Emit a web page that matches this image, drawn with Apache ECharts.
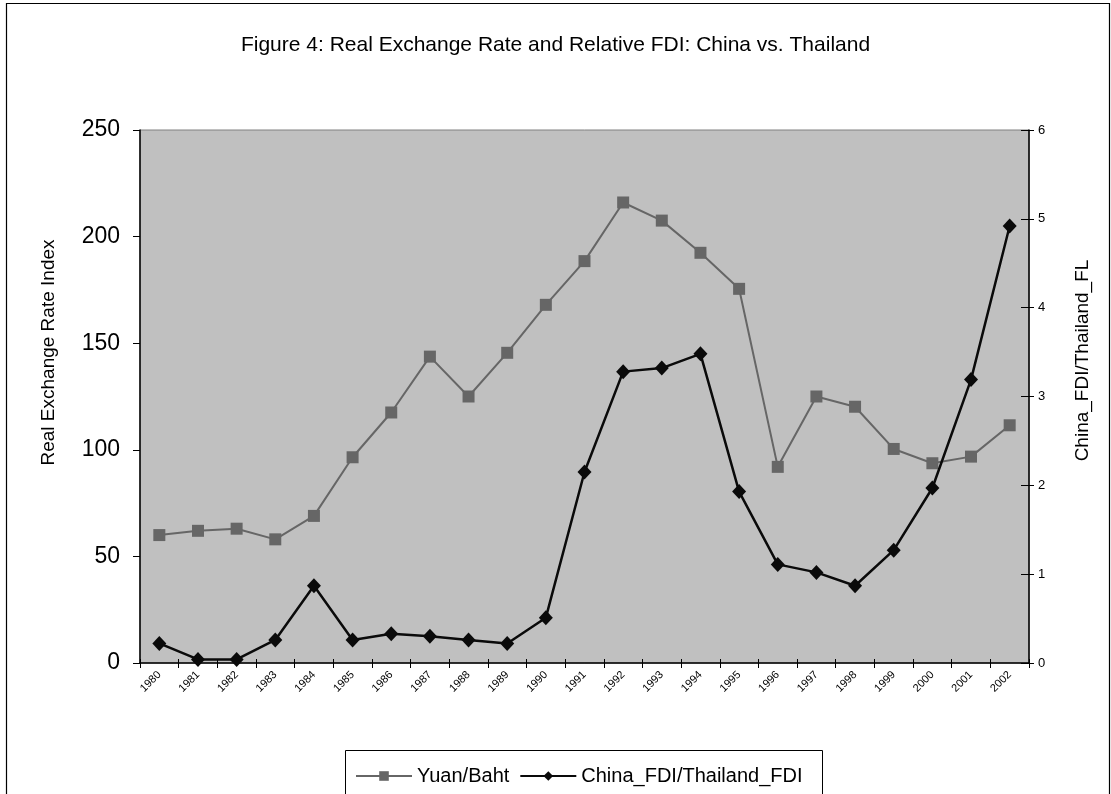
<!DOCTYPE html>
<html>
<head>
<meta charset="utf-8">
<script src="https://cdn.jsdelivr.net/npm/echarts@6/dist/echarts.min.js"></script>
<style>html,body{margin:0;padding:0;background:#fff;}#c{width:1111px;height:794px;}</style>
</head>
<body>
<div id="c"></div>
<script>
const years = ['1980','1981','1982','1983','1984','1985','1986','1987','1988','1989','1990','1991','1992','1993','1994','1995','1996','1997','1998','1999','2000','2001','2002'];
const yuanBaht = [60, 62, 63, 58, 69, 96.5, 117.5, 143.7, 125, 145.5, 168, 188.5, 216, 207.5, 192.4, 175.5, 92, 125, 120.2, 100.4, 93.7, 96.8, 111.5];
const fdiRatio = [0.22, 0.04, 0.04, 0.26, 0.87, 0.26, 0.33, 0.30, 0.26, 0.22, 0.51, 2.15, 3.28, 3.32, 3.48, 1.93, 1.11, 1.02, 0.87, 1.27, 1.97, 3.19, 4.92];
const leftTicks = [0, 250, 50];
const rightTicks = [0, 6, 1];

const font = 'Liberation Sans, Arial, sans-serif';
const chart = echarts.init(document.getElementById('c'));
chart.setOption({
  backgroundColor: '#ffffff',
  animation: false,
  textStyle: { fontFamily: font },
  title: {
    text: 'Figure 4: Real Exchange Rate and Relative FDI: China vs. Thailand',
    left: 'center', top: 30,
    textStyle: { fontFamily: font, fontSize: 21, fontWeight: 'normal', color: '#000' }
  },
  graphic: [
    { type: 'rect', left: 4, top: 1, shape: { width: 1103, height: 830 }, style: { fill: 'none', stroke: '#000', lineWidth: 1.2 }, silent: true, z: -1 },
    { type: 'rect', left: 345, top: 750, shape: { width: 477, height: 60 }, style: { fill: '#fff', stroke: '#000', lineWidth: 1 }, silent: true, z: 0 }
  ],
  legend: {
    left: 350, top: 761, itemGap: 10, itemWidth: 56, itemHeight: 12,
    textStyle: { fontFamily: font, fontSize: 20, color: '#000' },
    z: 5,
    data: ['Yuan/Baht', 'China_FDI/Thailand_FDI']
  },
  grid: { left: 140, right: 82, top: 130, bottom: 131, show: true, backgroundColor: '#c0c0c0', borderColor: '#808080', borderWidth: 1 },
  xAxis: [{
    type: 'category', data: years, boundaryGap: true, position: 'bottom',
    axisLine: { lineStyle: { color: '#000', width: 1.5 } },
    axisTick: { show: true, alignWithLabel: false, length: 5, lineStyle: { color: '#000' } },
    axisLabel: { rotate: 45, fontSize: 11, color: '#000', margin: 10, interval: 0, fontFamily: font }
  }, {
    type: 'category', data: years, boundaryGap: true, position: 'bottom',
    axisLine: { show: false },
    axisTick: { show: true, inside: true, length: 4, lineStyle: { color: '#000' } },
    axisLabel: { show: false }
  }],
  yAxis: [{
    type: 'value', min: leftTicks[0], max: leftTicks[1], interval: leftTicks[2], position: 'left',
    name: 'Real Exchange Rate Index', nameLocation: 'middle', nameRotate: 90, nameGap: 82,
    nameTextStyle: { fontFamily: font, fontSize: 19, color: '#000', padding: [0, 0, 0, 88] },
    axisLine: { show: true, lineStyle: { color: '#000', width: 1.5 } },
    axisTick: { show: true, length: 7, lineStyle: { color: '#000' } },
    axisLabel: { fontSize: 23, color: '#000', margin: 20, fontFamily: font },
    splitLine: { show: false }
  }, {
    type: 'value', min: rightTicks[0], max: rightTicks[1], interval: rightTicks[2], position: 'right',
    name: 'China_FDI/Thailand_FL', nameLocation: 'middle', nameRotate: 90, nameGap: 44,
    nameTextStyle: { fontFamily: font, fontSize: 19, color: '#000', padding: [0, 0, 0, 72] },
    axisLine: { show: true, lineStyle: { color: '#000', width: 1.5 } },
    axisTick: { show: true, length: 5, lineStyle: { color: '#000' } },
    axisLabel: { fontSize: 13, color: '#000', margin: 9, fontFamily: font },
    splitLine: { show: false }
  }, {
    type: 'value', min: rightTicks[0], max: rightTicks[1], interval: rightTicks[2], position: 'right',
    axisLine: { show: false },
    axisTick: { show: true, inside: true, length: 8, lineStyle: { color: '#000' } },
    axisLabel: { show: false },
    splitLine: { show: false }
  }],
  series: [{
    name: 'Yuan/Baht', type: 'line', xAxisIndex: 0, yAxisIndex: 0, data: yuanBaht,
    symbol: 'rect', symbolSize: 12,
    itemStyle: { color: '#666666' },
    lineStyle: { color: '#666666', width: 2 },
    z: 3
  }, {
    name: 'China_FDI/Thailand_FDI', type: 'line', xAxisIndex: 0, yAxisIndex: 1, data: fdiRatio,
    symbol: 'diamond', symbolSize: [14, 15],
    itemStyle: { color: '#0a0a0a' },
    lineStyle: { color: '#0a0a0a', width: 2.5 },
    z: 4
  }]
});
</script>
</body>
</html>
